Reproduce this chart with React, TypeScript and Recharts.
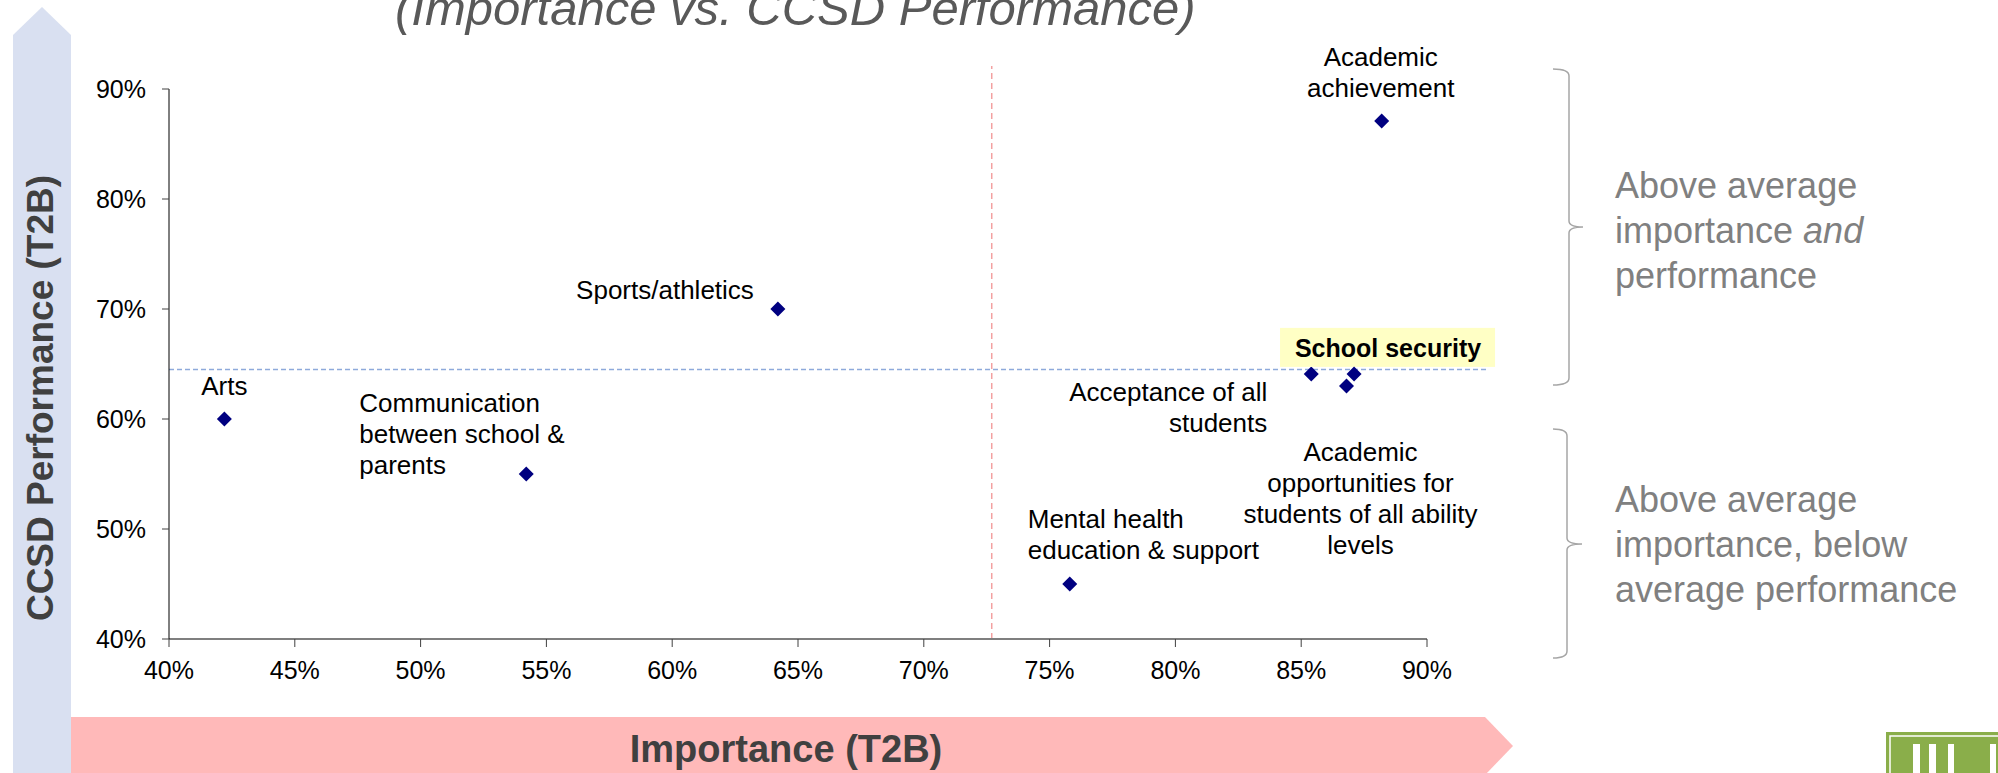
import React from "react";
import { ReferenceLine, Scatter, ScatterChart, XAxis, YAxis } from "recharts";

// categories (line breaks mark how the labels wrap)
const categories = [
  "Academic\nachievement",
  "Sports/athletics",
  "Arts",
  "Communication\nbetween school &\nparents",
  "Mental health\neducation & support",
  "Acceptance of all\nstudents",
  "School security",
  "Academic\nopportunities for\nstudents of all ability\nlevels",
];
const importance = [88.2, 64.2, 42.2, 54.2, 75.8, 85.4, 87.1, 86.8];
const performance = [87.1, 70.0, 60.0, 55.0, 45.0, 64.1, 64.1, 63.0];

const xTicks = [40, 45, 50, 55, 60, 65, 70, 75, 80, 85, 90];
const yTicks = [40, 50, 60, 70, 80, 90];

// averages used for the quadrant lines, plus how far each line runs
const avgImportance = 72.7;
const avgPerformance = 64.5;
const avgImportanceTop = 92.1;
const avgPerformanceEnd = 92.4;

const FONT = "'Liberation Sans', Arial, sans-serif";
const LINE_H = 31;

type LabelSpot = {
  anchor: "start" | "middle" | "end";
  dx: number;
  dy: number;
  bold?: boolean;
  highlight?: boolean;
};

// where each point's label sits relative to the marker
const labelSpots: LabelSpot[] = [
  { anchor: "middle", dx: -1, dy: -55 },
  { anchor: "end", dx: -24, dy: -10 },
  { anchor: "middle", dx: 0, dy: -24 },
  { anchor: "start", dx: -167, dy: -62 },
  { anchor: "start", dx: -42, dy: -56 },
  { anchor: "end", dx: -44, dy: 27 },
  { anchor: "middle", dx: 34, dy: -17, bold: true, highlight: true },
  { anchor: "middle", dx: 14, dy: 75 },
];

const rows = categories.map((name, i) => ({
  name,
  idx: i,
  x: importance[i],
  y: performance[i],
}));

function PointWithLabel(props: any) {
  const { cx, cy, payload } = props;
  if (cx == null || cy == null) return null;
  const spot = labelSpots[payload.idx];
  const lines = String(payload.name).split("\n");
  const r = 7.5;
  return (
    <g>
      {spot.highlight && (
        <rect x={cx - 74} y={cy - 46} width={215} height={39} fill="#ffffc5" />
      )}
      <polygon
        points={`${cx},${cy - r} ${cx + r},${cy} ${cx},${cy + r} ${cx - r},${cy}`}
        fill="#000080"
      />
      <text
        x={cx + spot.dx}
        y={cy + spot.dy}
        textAnchor={spot.anchor}
        fontFamily={FONT}
        fontSize={spot.bold ? 25 : 26}
        fontWeight={spot.bold ? "bold" : "normal"}
        fill="#000"
      >
        {lines.map((ln, k) => (
          <tspan key={k} x={cx + spot.dx} dy={k === 0 ? 0 : LINE_H}>
            {ln}
          </tspan>
        ))}
      </text>
    </g>
  );
}

function Backdrop() {
  return (
    <svg width={1998} height={773} style={{ position: "absolute", left: 0, top: 0 }}>
      {/* axis arrows */}
      <polygon points="13,773 13,35 42,7 71,35 71,773" fill="#d9e0f1" />
      <polygon points="71,717 1485,717 1513,746 1485,775 71,775" fill="#ffb9b9" />
      <text
        transform="translate(53,398) rotate(-90)"
        textAnchor="middle"
        fontFamily={FONT}
        fontSize={37}
        fontWeight="bold"
        fill="#404040"
      >
        CCSD Performance (T2B)
      </text>
      <text x={786} y={762} textAnchor="middle" fontFamily={FONT} fontSize={38} fontWeight="bold" fill="#404040">
        Importance (T2B)
      </text>

      {/* title, cut off at the top in the source */}
      <text x={395} y={25} fontFamily={FONT} fontSize={49} fontStyle="italic" fill="#595959">
        (Importance vs. CCSD Performance)
      </text>

      {/* right-hand braces */}
      <path
        d="M1553,69 Q1569,69 1569,76 L1569,221 Q1569,227 1583,227 Q1569,227 1569,233 L1569,378 Q1569,385 1553,385"
        fill="none"
        stroke="#a6a6a6"
        strokeWidth={1.5}
      />
      <path
        d="M1553,429 Q1567,429 1567,436 L1567,538 Q1567,544 1582,544 Q1567,544 1567,550 L1567,651 Q1567,658 1553,658"
        fill="none"
        stroke="#a6a6a6"
        strokeWidth={1.5}
      />
      <text fontFamily={FONT} fontSize={36} fill="#808080">
        <tspan x={1615} y={198}>Above average</tspan>
        <tspan x={1615} y={243}>
          importance <tspan fontStyle="italic">and</tspan>
        </tspan>
        <tspan x={1615} y={288}>performance</tspan>
      </text>
      <text fontFamily={FONT} fontSize={36} fill="#808080">
        <tspan x={1615} y={512}>Above average</tspan>
        <tspan x={1615} y={557}>importance, below</tspan>
        <tspan x={1615} y={602}>average performance</tspan>
      </text>

      {/* logo corner */}
      <rect x={1886} y={732} width={120} height={50} fill="#8aae4a" />
      <rect x={1890} y={736} width={112} height={42} fill="none" stroke="#fff" strokeWidth={1.5} />
      <rect x={1913} y={744} width={7} height={30} fill="#fff" />
      <rect x={1929} y={744} width={7} height={30} fill="#fff" />
      <rect x={1948} y={744} width={6} height={30} fill="#fff" />
      <rect x={1990} y={744} width={6} height={30} fill="#fff" />
    </svg>
  );
}

export default function App() {
  return (
    <div style={{ position: "absolute", left: 0, top: 0, width: 1998, height: 773, background: "#fff" }}>
      <Backdrop />
      <div style={{ position: "absolute", left: 0, top: 0 }}>
        <ScatterChart width={1998} height={773} margin={{ top: 89, right: 571, bottom: 104, left: 109 }}>
          <XAxis
            type="number"
            dataKey="x"
            domain={[40, 90]}
            ticks={xTicks}
            interval={0}
            tickFormatter={(v) => `${v}%`}
            axisLine={{ stroke: "#7f7f7f", strokeWidth: 2 }}
            tickLine={{ stroke: "#404040" }}
            tickSize={8}
            tickMargin={14}
            height={30}
            tick={{ fill: "#000", fontSize: 25, fontFamily: FONT }}
          />
          <YAxis
            type="number"
            dataKey="y"
            domain={[40, 90]}
            ticks={yTicks}
            interval={0}
            tickFormatter={(v) => `${v}%`}
            axisLine={{ stroke: "#000" }}
            tickLine={{ stroke: "#404040" }}
            tickSize={7}
            tickMargin={16}
            width={60}
            tick={{ fill: "#000", fontSize: 25, fontFamily: FONT }}
          />
          <ReferenceLine
            segment={[
              { x: avgImportance, y: 40 },
              { x: avgImportance, y: avgImportanceTop },
            ]}
            ifOverflow="visible"
            stroke="#f3a0a0"
            strokeWidth={1.5}
            strokeDasharray="6 4"
          />
          <ReferenceLine
            segment={[
              { x: 40, y: avgPerformance },
              { x: avgPerformanceEnd, y: avgPerformance },
            ]}
            ifOverflow="visible"
            stroke="#8eaadb"
            strokeWidth={1.5}
            strokeDasharray="5 3"
          />
          <Scatter data={rows} shape={PointWithLabel} isAnimationActive={false} />
        </ScatterChart>
      </div>
    </div>
  );
}
